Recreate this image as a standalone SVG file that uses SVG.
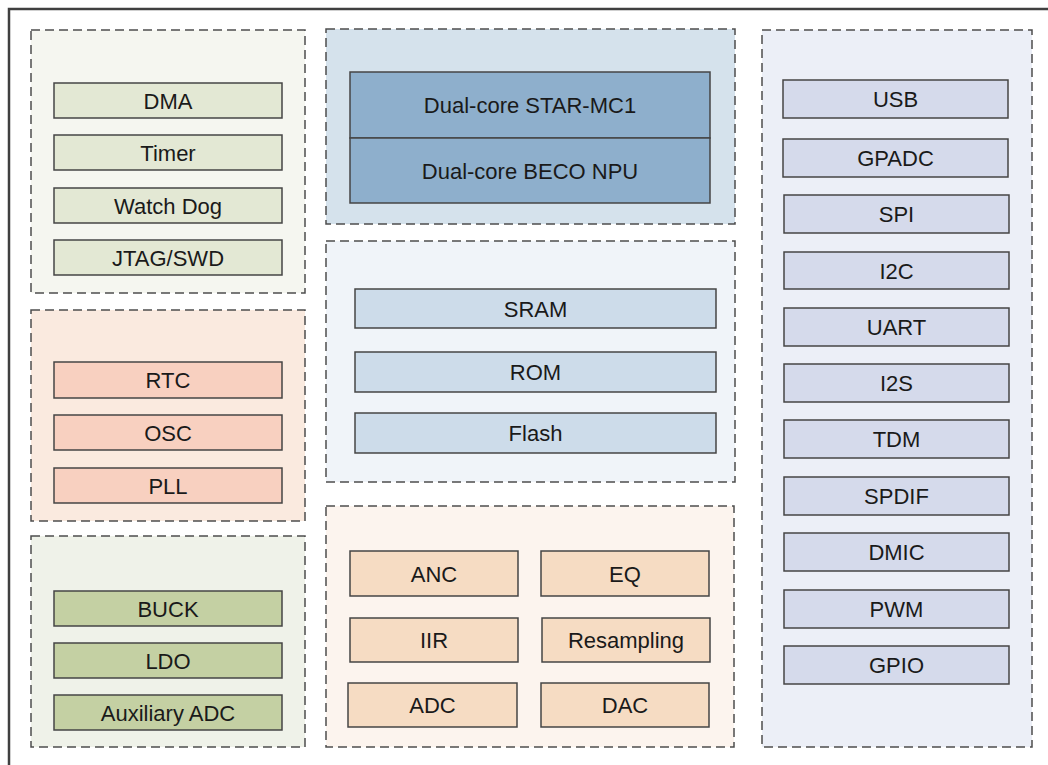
<svg xmlns="http://www.w3.org/2000/svg" width="1048" height="765" viewBox="0 0 1048 765">
<style>
.grp{stroke:#4d4d4d;stroke-width:1.5;stroke-dasharray:9 5}
.box{stroke:#454545;stroke-width:1.5}
text{font-family:"Liberation Sans",Arial,sans-serif;font-size:22px;fill:#1a1a1a;text-anchor:middle}
.g1{fill:#f5f6f0}.b1{fill:#e3e8d4}
.g2{fill:#faeadf}.b2{fill:#f8d0c0}
.g3{fill:#eff2e9}.b3{fill:#c4d0a3}
.g4{fill:#d5e2ec}.b4{fill:#8eafcc}
.g5{fill:#f0f4f9}.b5{fill:#cddcea}
.g6{fill:#fcf4ee}.b6{fill:#f6dcc3}
.g7{fill:#eceff7}.b7{fill:#d5daeb}
</style>
<rect width="1048" height="765" fill="#ffffff"/>
<path d="M9,765 V9 H1048" fill="none" stroke="#404040" stroke-width="2.5"/>

<g id="grp-system">
<rect class="grp g1" x="31" y="30" width="274" height="263"/>
<g id="dma"><rect class="box b1" x="54" y="83" width="228" height="35"/><text x="168" y="108.5">DMA</text></g>
<g id="timer"><rect class="box b1" x="54" y="135" width="228" height="35"/><text x="168" y="160.5">Timer</text></g>
<g id="watchdog"><rect class="box b1" x="54" y="188" width="228" height="35"/><text x="168" y="213.5">Watch Dog</text></g>
<g id="jtag"><rect class="box b1" x="54" y="240" width="228" height="35"/><text x="168" y="265.5">JTAG/SWD</text></g>
</g>

<g id="grp-clock">
<rect class="grp g2" x="31" y="310" width="274" height="211"/>
<g id="rtc"><rect class="box b2" x="54" y="362" width="228" height="36"/><text x="168" y="388">RTC</text></g>
<g id="osc"><rect class="box b2" x="54" y="415" width="228" height="35"/><text x="168" y="440.5">OSC</text></g>
<g id="pll"><rect class="box b2" x="54" y="468" width="228" height="35"/><text x="168" y="493.5">PLL</text></g>
</g>

<g id="grp-power">
<rect class="grp g3" x="31" y="536" width="274" height="211"/>
<g id="buck"><rect class="box b3" x="54" y="591" width="228" height="35"/><text x="168" y="616.5">BUCK</text></g>
<g id="ldo"><rect class="box b3" x="54" y="643" width="228" height="35"/><text x="168" y="668.5">LDO</text></g>
<g id="auxadc"><rect class="box b3" x="54" y="695" width="228" height="35"/><text x="168" y="720.5">Auxiliary ADC</text></g>
</g>

<g id="grp-cpu">
<rect class="grp g4" x="326" y="29" width="409" height="195"/>
<g id="starmc1"><rect class="box b4" x="350" y="72" width="360" height="66"/><text x="530" y="113">Dual-core STAR-MC1</text></g>
<g id="beco"><rect class="box b4" x="350" y="138" width="360" height="65"/><text x="530" y="178.5">Dual-core BECO NPU</text></g>
</g>

<g id="grp-memory">
<rect class="grp g5" x="326" y="241" width="409" height="241"/>
<g id="sram"><rect class="box b5" x="355" y="289" width="361" height="39"/><text x="535.5" y="316.5">SRAM</text></g>
<g id="rom"><rect class="box b5" x="355" y="352" width="361" height="40"/><text x="535.5" y="380">ROM</text></g>
<g id="flash"><rect class="box b5" x="355" y="413" width="361" height="40"/><text x="535.5" y="441">Flash</text></g>
</g>

<g id="grp-audio">
<rect class="grp g6" x="326" y="506" width="408" height="241"/>
<g id="anc"><rect class="box b6" x="350" y="551" width="168" height="45"/><text x="434" y="581.5">ANC</text></g>
<g id="eq"><rect class="box b6" x="541" y="551" width="168" height="45"/><text x="625" y="581.5">EQ</text></g>
<g id="iir"><rect class="box b6" x="350" y="618" width="168" height="44"/><text x="434" y="648">IIR</text></g>
<g id="resampling"><rect class="box b6" x="542" y="618" width="168" height="44"/><text x="626" y="648">Resampling</text></g>
<g id="adc"><rect class="box b6" x="348" y="683" width="169" height="44"/><text x="432.5" y="713">ADC</text></g>
<g id="dac"><rect class="box b6" x="541" y="683" width="168" height="44"/><text x="625" y="713">DAC</text></g>
</g>

<g id="grp-peripherals">
<rect class="grp g7" x="762" y="30" width="270" height="717"/>
<g id="usb"><rect class="box b7" x="783" y="80" width="225" height="38"/><text x="895.5" y="107">USB</text></g>
<g id="gpadc"><rect class="box b7" x="783" y="139" width="225" height="38"/><text x="895.5" y="166">GPADC</text></g>
<g id="spi"><rect class="box b7" x="784" y="195" width="225" height="38"/><text x="896.5" y="222">SPI</text></g>
<g id="i2c"><rect class="box b7" x="784" y="252" width="225" height="37"/><text x="896.5" y="278.5">I2C</text></g>
<g id="uart"><rect class="box b7" x="784" y="308" width="225" height="38"/><text x="896.5" y="335">UART</text></g>
<g id="i2s"><rect class="box b7" x="784" y="364" width="225" height="38"/><text x="896.5" y="391">I2S</text></g>
<g id="tdm"><rect class="box b7" x="784" y="420" width="225" height="38"/><text x="896.5" y="447">TDM</text></g>
<g id="spdif"><rect class="box b7" x="784" y="477" width="225" height="38"/><text x="896.5" y="504">SPDIF</text></g>
<g id="dmic"><rect class="box b7" x="784" y="533" width="225" height="38"/><text x="896.5" y="560">DMIC</text></g>
<g id="pwm"><rect class="box b7" x="784" y="590" width="225" height="38"/><text x="896.5" y="617">PWM</text></g>
<g id="gpio"><rect class="box b7" x="784" y="646" width="225" height="38"/><text x="896.5" y="673">GPIO</text></g>
</g>

<g id="connectors"></g>
</svg>
